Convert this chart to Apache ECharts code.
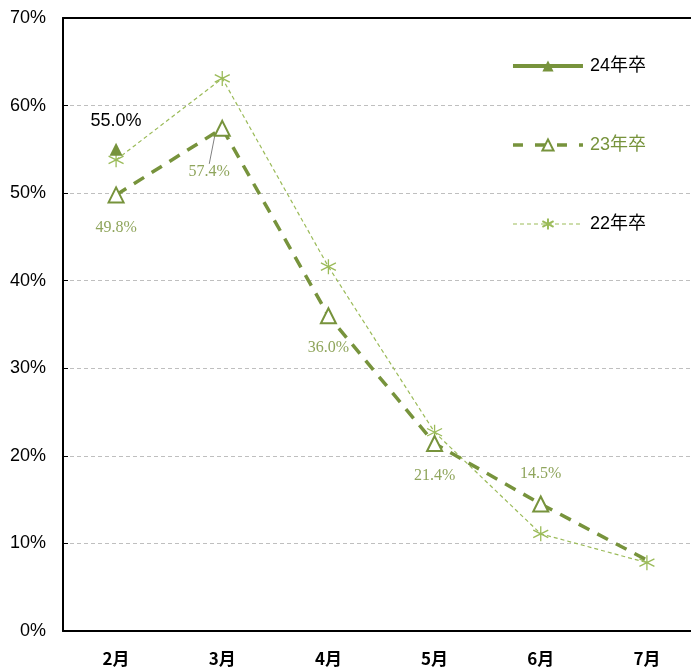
<!DOCTYPE html>
<html><head><meta charset="utf-8">
<script src="https://cdn.jsdelivr.net/npm/echarts@6/dist/echarts.min.js"></script>
<style>html,body{margin:0;padding:0;background:#fff}#c{width:691px;height:670px}</style>
</head><body><div id="c"></div>
<script>
const categories = ['2月','3月','4月','5月','6月','7月'];
const yTicks = [0,10,20,30,40,50,60,70];
const s24 = [55.0, null, null, null, null, null];
const s23 = [49.8, 57.4, 36.0, 21.4, 14.5, 8.1];
const s22 = [53.8, 63.1, 41.6, 22.7, 11.1, 7.8];
const names = ['24年卒','23年卒','22年卒'];

const dark = '#77933C', light = '#9BBB59', lblColor = '#8FA55C';
const asterisk = 'path://M5,0L5,10M0.7,2.5L9.3,7.5M0.7,7.5L9.3,2.5';
const serif = '"Liberation Serif","DejaVu Serif",serif';

const chart = echarts.init(document.getElementById('c'));
const data23 = s23.map((v,i)=>{
  const o = {value:v};
  if (i===1) o.labelLine = {show:true, lineStyle:{color:'#808080', width:1}};
  if (i===4) o.label = {position:'top', distance:14};
  if (i===5) o.symbol = 'none';
  return o;
});
chart.setOption({
  animation:false,
  grid:{left:63,right:-9,top:18,bottom:39,outerBoundsMode:'none'},
  legend:{
    orient:'vertical', right:40, top:52, itemWidth:70, itemHeight:14, itemGap:61,
    textStyle:{fontSize:18, fontFamily:'"Liberation Sans","Noto Sans CJK JP",sans-serif', color:'#000', padding:[0,0,0,2]},
    data:[
      {name:names[0], lineStyle:{width:4}},
      {name:names[1], lineStyle:{width:3.5,type:[10,12]}, textStyle:{color:dark}},
      {name:names[2], lineStyle:{width:1.2,type:[4,3]}}
    ]
  },
  xAxis:[{
    type:'category', data:categories, boundaryGap:true,
    axisLine:{lineStyle:{color:'#000',width:2}},
    axisTick:{inside:true,length:7,lineStyle:{color:'#000',width:1.5}},
    axisLabel:{fontSize:17,fontWeight:'bold',color:'#000',margin:19,fontFamily:'"Noto Sans CJK JP",sans-serif'}
  },{
    type:'category', data:categories, position:'top',
    axisLine:{lineStyle:{color:'#000',width:2}}, axisTick:{show:false}, axisLabel:{show:false}
  }],
  yAxis:{
    type:'value', min:0, max:70, interval:10,
    axisLine:{show:true,lineStyle:{color:'#000',width:2}},
    axisTick:{show:true,inside:true,length:5,lineStyle:{color:'#000'}},
    splitLine:{lineStyle:{color:'#BFBFBF',type:[4,3],width:1}},
    axisLabel:{formatter:v=>yTicks.includes(v)?v+'%':'', fontSize:18, color:'#000', margin:17,
      fontFamily:'"Liberation Sans Narrow","Liberation Sans",sans-serif'}
  },
  series:[
    {name:names[0], type:'line', data:s24, symbol:'triangle', symbolSize:13,
     itemStyle:{color:dark}, lineStyle:{color:dark,width:4},
     label:{show:true, position:'top', distance:13, formatter:p=>p.value.toFixed(1)+'%',
       color:'#000', fontSize:18, fontFamily:'"Liberation Sans",sans-serif'}},
    {name:names[1], type:'line', data:data23, symbol:'triangle', symbolSize:15,
     itemStyle:{color:'#fff', borderColor:dark, borderWidth:2},
     lineStyle:{color:dark,width:3.5,type:[12,9]},
     label:{show:true, position:'bottom', distance:16, formatter:p=>p.value.toFixed(1)+'%',
       color:lblColor, fontSize:16, fontFamily:serif},
     labelLayout:p=> p.dataIndex===1 ? {dx:-13, dy:11} : {},
     labelLine:{show:false},
     z:3},
    {name:names[2], type:'line', data:s22, symbol:asterisk, symbolSize:15,
     itemStyle:{color:'none', borderColor:light, borderWidth:1.3},
     lineStyle:{color:light,width:1.2,type:[4,3]}, z:2}
  ]
});
</script></body></html>
